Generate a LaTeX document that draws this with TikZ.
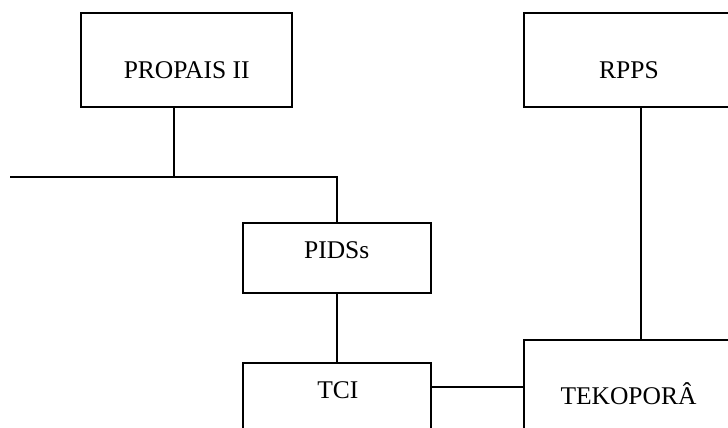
\documentclass[tikz,border=0pt]{standalone}
\usepackage{fontspec}
\setmainfont{Liberation Serif}
\begin{document}
\begin{tikzpicture}[x=1pt,y=-1pt,
  box/.style={draw=black,line width=1.9pt,rectangle,inner sep=0pt,outer sep=0pt},
  lbl/.style={anchor=base,inner sep=0pt,font=\fontsize{25.5pt}{30pt}\selectfont},
  conn/.style={line width=1.8pt}]
\useasboundingbox (0,0) rectangle (728,428);
\node[box,minimum width=211pt,minimum height=94pt] (propais) at (186.2,59.7) {};
\node[box,minimum width=211pt,minimum height=94pt] (rpps) at (629.5,59.7) {};
\node[box,minimum width=187.4pt,minimum height=70.3pt] (pidss) at (337,258.15) {};
\node[box,minimum width=187.4pt,minimum height=90pt] (tci) at (337,408.3) {};
\node[box,minimum width=211pt,minimum height=110pt] (tekopora) at (629.5,395) {};
\node[lbl] (tpropais) at (186.7,78.3) {PROPAIS II};
\node[lbl] (trpps) at (629,78.3) {RPPS};
\node[lbl] (tpidss) at (336.7,258) {PIDSs};
\node[lbl] (ttci) at (337.8,398) {TCI};
\node[lbl] (ttekopora) at (628.5,404) {TEKOPORÂ};
\coordinate (j) at (174,176.7);
\coordinate (lend) at (10,176.7);
\coordinate (r) at (640.7,0);
\coordinate (h) at (0,386.7);
\draw[conn] (propais.south -| j) -- (j);
\draw[conn] (lend) -- (j -| pidss.north) -- (pidss.north);
\draw[conn] (pidss.south) -- (tci.north);
\draw[conn] (rpps.south -| r) -- (tekopora.north -| r);
\draw[conn] (tci.east |- h) -- (tekopora.west |- h);
\end{tikzpicture}
\end{document}
